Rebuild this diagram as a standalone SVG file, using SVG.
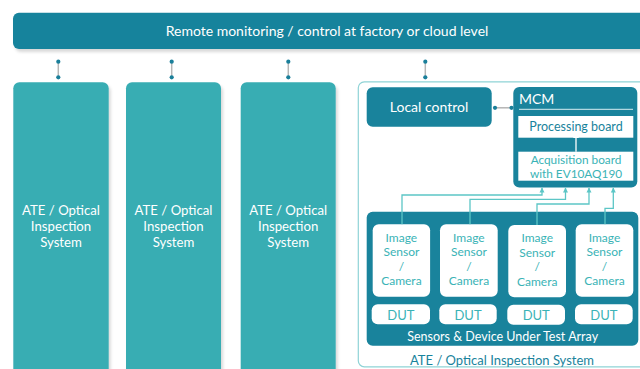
<svg xmlns="http://www.w3.org/2000/svg" width="640" height="369" viewBox="0 0 640 369">
<defs>
<style>
text{font-family:Lato,"Open Sans","Liberation Sans",sans-serif;text-anchor:middle}
.dark{fill:#19839c}
.col{fill:#38adb3}
.w{fill:#ffffff}
.tw{fill:#ffffff}
.tl{fill:#3ab3b6}
.td{fill:#19839c}
.dot{fill:#1a7f9a}
.gl{stroke:#b5b5b5;stroke-width:1.5;fill:none}
.cl{stroke:#5cc6c6;stroke-width:1.3;fill:none}
</style>
<filter id="sh" x="-10%" y="-10%" width="130%" height="130%">
<feDropShadow dx="2" dy="3" stdDeviation="1.5" flood-color="#000" flood-opacity="0.15"/>
</filter>
<marker id="arw" markerWidth="6" markerHeight="6" refX="3" refY="5" markerUnits="userSpaceOnUse" viewBox="0 0 6 6">
<path d="M0,5 L3,0 L6,5 Z" fill="#ffffff"/>
</marker>
</defs>
<rect width="640" height="369" fill="#ffffff"/>

<g id="remote">
<rect class="dark" x="13" y="12.7" width="640" height="36.3" rx="6" filter="url(#sh)"/>
<text class="tw" x="327" y="35.5" font-size="14">Remote monitoring / control at factory or cloud level</text>
</g>

<g id="ate1">
<rect class="col" x="13.3" y="82.3" width="95.4" height="300" rx="6" filter="url(#sh)"/>
<text class="tw" font-size="13.2"><tspan x="61" y="215.3">ATE / Optical</tspan><tspan x="61" y="231.3">Inspection</tspan><tspan x="61" y="247.3">System</tspan></text>
</g>
<g id="ate2">
<rect class="col" x="126" y="82.3" width="95" height="300" rx="6" filter="url(#sh)"/>
<text class="tw" font-size="13.2"><tspan x="173.5" y="215.3">ATE / Optical</tspan><tspan x="173.5" y="231.3">Inspection</tspan><tspan x="173.5" y="247.3">System</tspan></text>
</g>
<g id="ate3">
<rect class="col" x="240.7" y="82.3" width="95" height="300" rx="6" filter="url(#sh)"/>
<text class="tw" font-size="13.2"><tspan x="288.2" y="215.3">ATE / Optical</tspan><tspan x="288.2" y="231.3">Inspection</tspan><tspan x="288.2" y="247.3">System</tspan></text>
</g>

<g id="ate4">
<rect x="358.3" y="81.8" width="300" height="285" rx="6" fill="none" stroke="#8fd3d6" stroke-width="1.2"/>
<text class="td" x="502" y="364.5" font-size="13">ATE / Optical Inspection System</text>
</g>

<g id="local-control">
<rect class="dark" x="366.7" y="87.3" width="125" height="39.4" rx="6"/>
<text class="tw" x="429" y="112" font-size="14">Local control</text>
</g>

<g id="mcm">
<rect class="dark" x="513.3" y="87" width="124" height="100.5" rx="6"/>
<text class="tw" x="519" y="104" font-size="14" style="text-anchor:start">MCM</text>
<line x1="519" y1="109.3" x2="633" y2="109.3" stroke="#d8eef2" stroke-width="1"/>
</g>
<g id="processing-board">
<rect class="w" x="518.3" y="116" width="115" height="21.7"/>
<text class="td" x="576" y="131.3" font-size="12.5">Processing board</text>
</g>
<g id="acquisition-board">
<rect class="w" x="518.3" y="151.7" width="115" height="29"/>
<text class="tl" font-size="11.8"><tspan x="576" y="164">Acquisition board</tspan><tspan x="576" y="178">with EV10AQ190</tspan></text>
</g>

<g id="sensor-array">
<rect class="dark" x="366.7" y="211.7" width="271.6" height="134" rx="6"/>
<text class="tw" x="502.7" y="340.5" font-size="12.5">Sensors &amp; Device Under Test Array</text>
</g>

<g id="camera1">
<rect class="w" x="372.7" y="224.3" width="57.4" height="72.4" rx="6"/>
<text class="tl" font-size="12"><tspan x="401.4" y="241.5">Image</tspan><tspan x="401.4" y="256">Sensor</tspan><tspan x="401.4" y="270.5">/</tspan><tspan x="401.4" y="285">Camera</tspan></text>
</g>
<g id="camera2">
<rect class="w" x="440" y="224.3" width="57.7" height="72.4" rx="6"/>
<text class="tl" font-size="12"><tspan x="468.9" y="241.5">Image</tspan><tspan x="468.9" y="256">Sensor</tspan><tspan x="468.9" y="270.5">/</tspan><tspan x="468.9" y="285">Camera</tspan></text>
</g>
<g id="camera3">
<rect class="w" x="508.3" y="225" width="57.7" height="72.3" rx="6"/>
<text class="tl" font-size="12"><tspan x="537.2" y="242">Image</tspan><tspan x="537.2" y="256.5">Sensor</tspan><tspan x="537.2" y="271">/</tspan><tspan x="537.2" y="285.5">Camera</tspan></text>
</g>
<g id="camera4">
<rect class="w" x="575.7" y="224.3" width="57.6" height="72.4" rx="6"/>
<text class="tl" font-size="12"><tspan x="604.5" y="241.5">Image</tspan><tspan x="604.5" y="256">Sensor</tspan><tspan x="604.5" y="270.5">/</tspan><tspan x="604.5" y="285">Camera</tspan></text>
</g>

<g id="dut1">
<rect class="w" x="371.7" y="304.3" width="58.3" height="20" rx="6"/>
<text class="tl" x="400.9" y="319.5" font-size="13">DUT</text>
</g>
<g id="dut2">
<rect class="w" x="439.3" y="304.3" width="57.4" height="20" rx="6"/>
<text class="tl" x="468" y="319.5" font-size="13">DUT</text>
</g>
<g id="dut3">
<rect class="w" x="507.3" y="304.8" width="57.7" height="20" rx="6"/>
<text class="tl" x="536.2" y="320" font-size="13">DUT</text>
</g>
<g id="dut4">
<rect class="w" x="575" y="304.3" width="57.7" height="20" rx="6"/>
<text class="tl" x="603.9" y="319.5" font-size="13">DUT</text>
</g>

<g id="connectors">
<line class="gl" x1="58.3" y1="61.7" x2="58.3" y2="77.3"/>
<line class="gl" x1="171.7" y1="61.7" x2="171.7" y2="77.3"/>
<line class="gl" x1="288.3" y1="61.7" x2="288.3" y2="77.3"/>
<line class="gl" x1="425.3" y1="61.7" x2="425.3" y2="77.3"/>
<circle class="dot" cx="58.3" cy="61.7" r="2.1"/><circle class="dot" cx="58.3" cy="77.3" r="2.1"/>
<circle class="dot" cx="171.7" cy="61.7" r="2.1"/><circle class="dot" cx="171.7" cy="77.3" r="2.1"/>
<circle class="dot" cx="288.3" cy="61.7" r="2.1"/><circle class="dot" cx="288.3" cy="77.3" r="2.1"/>
<circle class="dot" cx="425.3" cy="61.7" r="2.1"/><circle class="dot" cx="425.3" cy="77.3" r="2.1"/>
<line x1="495" y1="107.8" x2="511.5" y2="107.8" stroke="#b5b5b5" stroke-width="1.5"/>
<circle class="dot" cx="495" cy="107.8" r="2.1"/><circle class="dot" cx="511.5" cy="107.8" r="2.1"/>
<line x1="576" y1="151.7" x2="576" y2="138" stroke="#ffffff" stroke-width="1.3" marker-end="url(#arw)"/>
<polyline class="cl" points="402,224.3 402,195 542,195 542,188"/>
<polyline class="cl" points="470,224.3 470,199.3 565.5,199.3 565.5,188"/>
<polyline class="cl" points="537,225 537,204 589,204 589,188"/>
<polyline class="cl" points="605,224.3 605,208.3 613.3,208.3 613.3,188"/>
<path d="M539.5,192.5 L542,187.6 L544.5,192.5 Z M563,192.5 L565.5,187.6 L568,192.5 Z M586.5,192.5 L589,187.6 L591.5,192.5 Z M610.8,192.5 L613.3,187.6 L615.8,192.5 Z" fill="#5cc6c6"/>
</g>
</svg>
